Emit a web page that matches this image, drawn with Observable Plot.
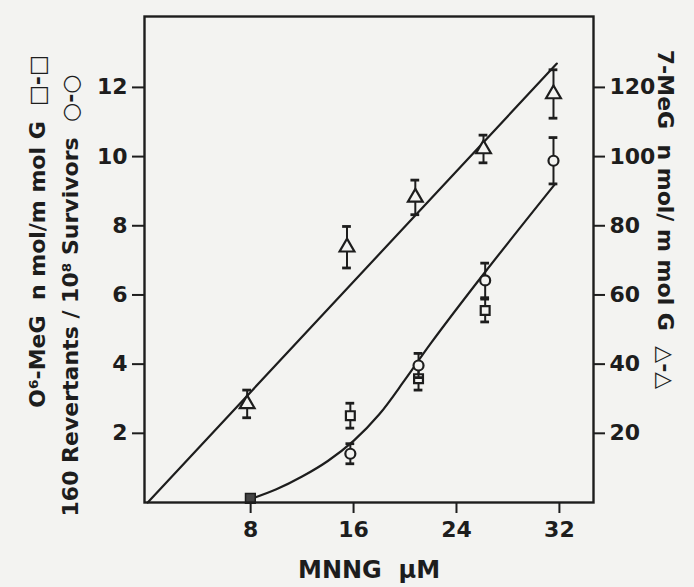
<!DOCTYPE html>
<html><head><meta charset="utf-8">
<script src="https://cdn.jsdelivr.net/npm/d3@7"></script>
<script src="https://cdn.jsdelivr.net/npm/@observablehq/plot@0.6"></script>
<style>
html,body{margin:0;padding:0;background:#f3f3f1;}
#chart{width:694px;height:587px;overflow:hidden;}
</style></head><body><div id="chart"></div>
<script>
// ---- data ----
const xTicks = [8, 16, 24, 32];
const leftTicks = [2, 4, 6, 8, 10, 12];
const rightTicks = [20, 40, 60, 80, 100, 120];

// 7-MeG nmol/mmol G (triangles, right axis)
const megDose  = [7.73, 15.49, 20.8, 26.1, 31.54];
const megValue = [28.5, 73.8, 88.2, 102.2, 118.1];
const megErr   = [4, 6, 5, 4, 7];
const megLineDose  = [0, 31.8];
const megLineValue = [0, 126.9];

// O6-MeG nmol/mmol G (squares, left axis)
const o6Dose  = [15.75, 21.05, 26.23];
const o6Value = [2.51, 3.58, 5.55];
const o6Err   = [0.36, 0.33, 0.33];
const o6ZeroDose = [7.98];
const o6ZeroValue = [0.12];

// 160 revertants / 10^8 survivors (circles, left axis)
const revDose  = [15.75, 21.05, 26.23, 31.54];
const revValue = [1.41, 3.96, 6.42, 9.88];
const revErr   = [0.29, 0.35, 0.5, 0.67];

// fitted curve through O6-MeG / revertants
const curveDose  = [8, 10, 12, 14, 16, 18, 20, 22, 26.2, 31.67];
const curveValue = [0.1, 0.38, 0.75, 1.2, 1.78, 2.55, 3.55, 4.6, 6.65, 9.21];

const labelLeft1 = "O⁶-MeG  n mol/m mol G  □-□";
const labelLeft2 = "160 Revertants / 10⁸ Survivors  ○-○";
const labelRight = "7-MeG  n mol/ m mol G  △-△";
const labelX = "MNNG  μM";

// ---- build ----
const ink = "#1d1d1d";
const bg = "#f3f3f1";
const ratio = 10; // right axis = ratio × left axis
const capW = 0.34;

const tri = megDose.map((x, i) => ({x, y: megValue[i] / ratio, lo: (megValue[i] - megErr[i]) / ratio, hi: (megValue[i] + megErr[i]) / ratio}));
const sq = o6Dose.map((x, i) => ({x, y: o6Value[i], lo: o6Value[i] - o6Err[i], hi: o6Value[i] + o6Err[i]}));
const sq0 = o6ZeroDose.map((x, i) => ({x, y: o6ZeroValue[i]}));
const circ = revDose.map((x, i) => ({x, y: revValue[i], lo: revValue[i] - revErr[i], hi: revValue[i] + revErr[i]}));
const megLine = megLineDose.map((x, i) => ({x, y: megLineValue[i] / ratio}));
const curve = curveDose.map((x, i) => ({x, y: curveValue[i]}));

function errMarks(data, symbol, r) {
  return [
    Plot.ruleX(data, {x: "x", y1: "lo", y2: "hi", stroke: ink, strokeWidth: 2}),
    Plot.ruleY(data, {y: "lo", x1: d => d.x - capW, x2: d => d.x + capW, stroke: ink, strokeWidth: 2.8}),
    Plot.ruleY(data, {y: "hi", x1: d => d.x - capW, x2: d => d.x + capW, stroke: ink, strokeWidth: 2.8}),
    Plot.dot(data, {x: "x", y: "y", symbol, r, fill: bg, stroke: ink, strokeWidth: 2.2})
  ];
}

const chart = Plot.plot({
  width: 694, height: 587,
  marginLeft: 144, marginRight: 101, marginTop: 16, marginBottom: 85,
  style: {background: bg, fontFamily: "DejaVu Sans", fontSize: "22px", color: ink, overflow: "visible"},
  x: {domain: [-0.25, 34.65]},
  y: {domain: [0, 14.05]},
  marks: [
    Plot.axisX({ticks: xTicks, tickSize: 11, tickPadding: 8, label: null, strokeWidth: 2, fontSize: 22, fontWeight: "bold"}),
    Plot.axisY({anchor: "left", ticks: leftTicks, tickSize: 12, tickPadding: 5, label: null, strokeWidth: 2, fontSize: 22, fontWeight: "bold"}),
    Plot.axisY({anchor: "right", ticks: rightTicks.map(v => v / ratio), tickFormat: d => String(Math.round(d * ratio)), tickSize: 11, tickPadding: 5, label: null, strokeWidth: 2, fontSize: 22, fontWeight: "bold"}),
    Plot.line(megLine, {x: "x", y: "y", stroke: ink, strokeWidth: 2.2}),
    Plot.line(curve, {x: "x", y: "y", curve: "catmull-rom", stroke: ink, strokeWidth: 2.2}),
    ...errMarks(tri, "triangle", 5.5),
    ...errMarks(sq, "square", 5),
    ...errMarks(circ, "circle", 5),
    Plot.dot(sq0, {x: "x", y: "y", symbol: "square", r: 5.5, fill: "#444", stroke: ink, strokeWidth: 1.5}),
    Plot.frame({stroke: ink, strokeWidth: 2.4}),
    Plot.text([labelLeft1], {text: d => d, frameAnchor: "left", textAnchor: "middle", lineAnchor: "middle", dx: -107, dy: -28, rotate: -90, fontSize: 22, fontWeight: 600, fill: ink}),
    Plot.text([labelLeft2], {text: d => d, frameAnchor: "left", textAnchor: "middle", lineAnchor: "middle", dx: -74, dy: 36, rotate: -90, fontSize: 22, fontWeight: 600, fill: ink}),
    Plot.text([labelRight], {text: d => d, frameAnchor: "right", textAnchor: "middle", lineAnchor: "middle", dx: 72, dy: -40, rotate: 90, fontSize: 22, fontWeight: 600, fill: ink}),
    Plot.text([labelX], {text: d => d, frameAnchor: "bottom", textAnchor: "middle", lineAnchor: "middle", dx: 0, dy: 68, fontSize: 24, fontWeight: 600, fill: ink})
  ]
});
document.getElementById("chart").append(chart);
</script>
</body></html>
